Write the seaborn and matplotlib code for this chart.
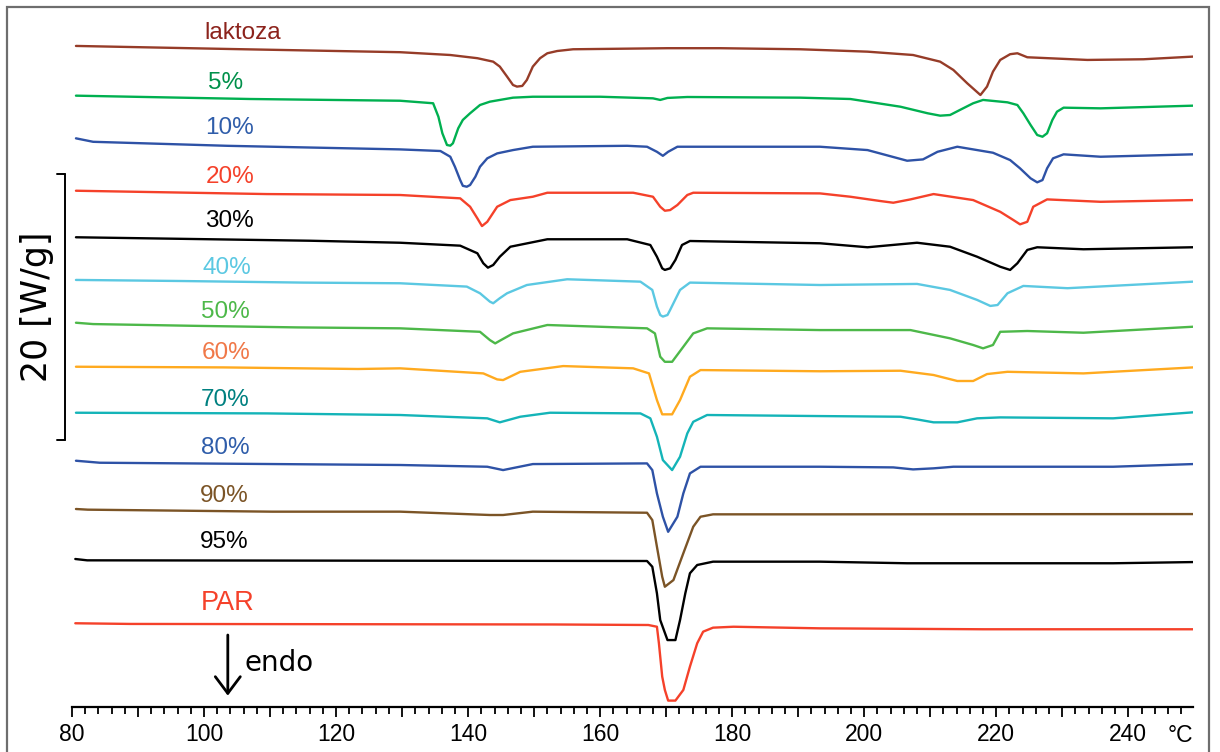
import numpy as np
import pandas as pd
import matplotlib
matplotlib.use("Agg")
import matplotlib.pyplot as plt
import seaborn as sns
from matplotlib.ticker import MultipleLocator, FuncFormatter
from matplotlib.transforms import blended_transform_factory
from matplotlib.patches import Rectangle

# ---------------- data (heat flow, W/g, relative to each curve's start) ----------------
samples = ["laktoza", "5%", "10%", "20%", "30%", "40%", "50%", "60%", "70%", "80%", "90%", "95%", "PAR"]

t_laktoza = [80.6, 103.9, 129.7, 137.3, 141.4, 143.8, 144.8, 145.9, 146.8, 147.4, 148.2, 148.9, 149.8, 150.9, 152.0,
             153.5, 155.9, 170.2, 178.2, 190.3, 200.5, 207.4, 211.5, 213.5, 215.6, 217.6, 218.6, 219.5, 220.6, 222.1,
             223.2, 224.7, 233.8, 242.3, 249.8]
hf_laktoza = [0, -0.23, -0.47, -0.68, -0.92, -1.18, -1.55, -2.30, -2.93, -3.05, -3.00, -2.55, -1.55, -0.92, -0.55,
              -0.38, -0.25, -0.17, -0.17, -0.25, -0.43, -0.68, -1.18, -1.80, -2.80, -3.68, -3.05, -1.93, -1.05, -0.62,
              -0.55, -0.85, -1.05, -1.00, -0.80]

t_5 = [80.6, 107.0, 129.7, 134.7, 135.5, 136.1, 136.8, 137.3, 137.7, 138.5, 139.2, 140.3, 141.8, 143.3, 146.8,
       149.8, 160.0, 168.0, 169.1, 170.2, 173.2, 190.3, 197.9, 205.5, 209.6, 211.5, 213.0, 214.5, 216.5, 218.0,
       221.7, 223.2, 224.1, 225.2, 226.2, 227.0, 227.7, 228.5, 229.2, 230.2, 235.8, 249.8]
hf_5 = [0, -0.25, -0.38, -0.57, -1.58, -2.82, -3.70, -3.75, -3.57, -2.45, -1.82, -1.32, -0.70, -0.45, -0.15,
        -0.08, -0.08, -0.20, -0.32, -0.17, -0.10, -0.15, -0.25, -0.83, -1.32, -1.50, -1.45, -1.07, -0.57, -0.32,
        -0.50, -0.70, -1.32, -2.20, -2.95, -3.08, -2.82, -1.82, -1.20, -0.90, -0.95, -0.75]

t_10 = [80.6, 83.2, 103.5, 129.7, 135.8, 137.3, 138.0, 138.8, 139.2, 139.8, 140.3, 141.1, 141.8, 142.9, 144.4,
        146.8, 149.8, 164.1, 167.1, 168.6, 169.5, 170.3, 171.7, 193.3, 200.5, 206.5, 208.9, 211.1, 214.1, 219.5,
        222.1, 223.6, 225.2, 226.2, 227.0, 227.7, 228.6, 230.2, 235.8, 249.8]
hf_10 = [0, -0.26, -0.56, -0.83, -0.95, -1.38, -2.13, -3.13, -3.56, -3.63, -3.50, -2.88, -2.13, -1.50, -1.13,
         -0.88, -0.63, -0.56, -0.63, -1.01, -1.31, -1.01, -0.63, -0.63, -0.88, -1.68, -1.58, -1.01, -0.63, -1.08,
         -1.63, -2.25, -3.00, -3.30, -3.13, -2.25, -1.50, -1.20, -1.38, -1.20]

t_20 = [80.6, 109.5, 129.7, 138.8, 140.3, 141.4, 142.1, 142.9, 144.4, 146.4, 149.8, 152.0, 165.0, 168.0, 169.1,
        169.8, 170.6, 171.7, 173.2, 174.1, 193.3, 197.9, 202.4, 204.4, 207.0, 210.5, 216.5, 220.6, 222.6, 223.6,
        224.7, 225.6, 227.7, 235.8, 249.8]
hf_20 = [0, -0.25, -0.32, -0.57, -1.20, -2.07, -2.65, -2.33, -1.20, -0.70, -0.45, -0.15, -0.15, -0.45, -1.20,
         -1.50, -1.45, -1.07, -0.32, -0.15, -0.20, -0.45, -0.77, -0.90, -0.65, -0.25, -0.70, -1.58, -2.20, -2.52,
         -2.33, -1.20, -0.65, -0.83, -0.70]

t_30 = [80.6, 116.1, 129.7, 138.8, 141.4, 142.3, 143.0, 143.8, 144.8, 146.4, 152.0, 164.1, 167.6, 168.6, 169.4,
        169.8, 170.6, 171.4, 172.4, 173.6, 193.3, 200.5, 208.0, 213.0, 217.1, 220.6, 222.1, 223.2, 224.7, 226.2,
        233.2, 249.8]
hf_30 = [0, -0.26, -0.41, -0.63, -1.20, -1.95, -2.28, -2.08, -1.46, -0.71, -0.15, -0.15, -0.58, -1.46, -2.33,
         -2.45, -2.33, -1.70, -0.58, -0.28, -0.45, -0.75, -0.41, -0.71, -1.46, -2.21, -2.45, -1.95, -0.95, -0.75,
         -0.90, -0.75]

t_40 = [80.6, 96.4, 115.0, 129.7, 139.8, 141.8, 143.3, 143.8, 144.8, 145.9, 148.9, 155.0, 166.1, 167.9, 168.6,
        169.1, 169.5, 170.2, 170.6, 172.1, 173.6, 193.3, 208.0, 213.0, 217.1, 219.1, 220.2, 221.7, 224.1, 230.8,
        249.8]
hf_40 = [0, -0.08, -0.20, -0.25, -0.50, -1.00, -1.63, -1.75, -1.37, -1.00, -0.38, 0.05, -0.13, -0.75, -2.00,
         -2.63, -2.75, -2.63, -2.25, -0.75, -0.20, -0.38, -0.30, -0.75, -1.50, -1.95, -1.88, -1.00, -0.45, -0.62,
         -0.13]

t_50 = [80.6, 83.2, 98.3, 114.1, 129.7, 141.8, 143.3, 144.1, 144.8, 146.8, 152.0, 167.1, 168.3, 169.1, 169.8,
        170.9, 172.6, 174.1, 176.2, 193.3, 207.0, 213.0, 216.5, 218.0, 219.5, 220.6, 224.7, 233.2, 249.8]
hf_50 = [0, -0.10, -0.23, -0.35, -0.42, -0.68, -1.30, -1.55, -1.35, -0.80, -0.17, -0.42, -0.80, -2.55, -2.93,
         -2.93, -1.80, -0.80, -0.42, -0.55, -0.55, -1.17, -1.67, -1.92, -1.67, -0.68, -0.62, -0.75, -0.30]

t_60 = [80.6, 102.9, 123.3, 129.7, 142.3, 144.4, 145.3, 147.9, 154.4, 165.0, 167.4, 168.6, 169.4, 170.9, 172.1,
        173.6, 175.2, 193.3, 205.5, 210.5, 214.1, 216.5, 218.6, 221.7, 233.2, 249.8]
hf_60 = [0, -0.05, -0.17, -0.12, -0.50, -0.95, -1.00, -0.38, 0.05, -0.12, -0.50, -2.50, -3.57, -3.57, -2.50,
         -0.75, -0.25, -0.34, -0.30, -0.62, -1.07, -1.07, -0.55, -0.38, -0.50, -0.05]

t_70 = [80.6, 109.5, 129.7, 142.9, 144.8, 147.9, 152.4, 166.1, 167.6, 168.6, 169.5, 170.9, 172.1, 173.2, 174.1,
        176.2, 193.3, 205.5, 208.0, 210.5, 214.1, 217.1, 220.6, 237.7, 249.8]
hf_70 = [0, -0.05, -0.17, -0.42, -0.72, -0.30, 0, -0.05, -0.42, -1.80, -3.55, -4.30, -3.30, -1.55, -0.68,
         -0.17, -0.25, -0.30, -0.50, -0.72, -0.72, -0.42, -0.35, -0.42, 0.03]

t_80 = [80.6, 84.2, 116.1, 129.7, 142.9, 145.3, 149.8, 167.1, 167.9, 168.6, 169.5, 170.3, 171.7, 172.6, 173.6,
        175.2, 193.3, 204.4, 207.4, 210.5, 213.5, 237.7, 249.8]
hf_80 = [0, -0.15, -0.27, -0.32, -0.45, -0.70, -0.25, -0.20, -0.70, -2.45, -4.20, -5.33, -4.20, -2.45, -0.95,
         -0.45, -0.45, -0.50, -0.65, -0.57, -0.45, -0.45, -0.25]

t_90 = [80.6, 82.4, 110.3, 129.7, 143.3, 145.3, 149.8, 167.1, 167.9, 168.6, 169.4, 169.8, 171.1, 172.6, 174.1,
        175.2, 177.1, 193.3, 249.8]
hf_90 = [0, -0.05, -0.20, -0.20, -0.45, -0.45, -0.20, -0.28, -0.83, -2.83, -5.08, -5.83, -5.33, -3.32, -1.33,
         -0.58, -0.40, -0.40, -0.38]

t_95 = [80.5, 82.3, 132.7, 167.1, 167.9, 168.6, 169.1, 170.2, 171.4, 172.1, 172.9, 173.6, 174.7, 177.1, 193.3,
        206.5, 237.7, 249.8]
hf_95 = [0, -0.10, -0.13, -0.15, -0.58, -2.57, -4.58, -6.08, -6.08, -4.58, -2.57, -1.07, -0.45, -0.20, -0.20,
         -0.32, -0.32, -0.23]

t_par = [80.5, 88.8, 152.9, 167.3, 168.6, 168.9, 169.4, 169.8, 170.3, 171.4, 172.6, 173.6, 174.7, 175.6, 177.1,
         180.2, 193.3, 218.0, 249.8]
hf_par = [0, -0.05, -0.09, -0.13, -0.26, -1.50, -4.00, -5.00, -5.80, -5.80, -5.00, -3.25, -1.50, -0.63, -0.33,
          -0.26, -0.38, -0.45, -0.45]

temps = [t_laktoza, t_5, t_10, t_20, t_30, t_40, t_50, t_60, t_70, t_80, t_90, t_95, t_par]
flows = [hf_laktoza, hf_5, hf_10, hf_20, hf_30, hf_40, hf_50, hf_60, hf_70, hf_80, hf_90, hf_95, hf_par]

# ---------------- layout / style ----------------
offsets = [49.58, 45.85, 42.65, 38.72, 35.23, 32.03, 28.82, 25.52, 22.07, 18.47, 14.85, 11.10, 6.28]
label_x = [105.9, 103.2, 103.8, 103.9, 103.9, 103.5, 103.3, 103.3, 103.2, 103.2, 103.0, 103.0, 103.6]
label_dy = [1.0, 0.95, 0.75, 1.0, 1.2, 0.9, 0.8, 1.0, 0.95, 0.95, 0.95, 1.3, 1.5]
line_colors = ["#963C28", "#00B050", "#2E52A6", "#F5412A", "#000000", "#5BC8E2", "#4DB849",
               "#FFAA1F", "#14B4B8", "#2E52A6", "#7B5426", "#000000", "#F5412A"]
text_colors = ["#8C231C", "#00904A", "#2F5DAA", "#F5412A", "#000000", "#5BC8E2", "#4DB849",
               "#F07848", "#008080", "#2F5DAA", "#7B5426", "#000000", "#F5412A"]

frames = []
for name, t, hf, off in zip(samples, temps, flows, offsets):
    frames.append(pd.DataFrame({"T": t, "y": np.asarray(hf) + off, "sample": name}))
df = pd.concat(frames, ignore_index=True)

sns.set_style("ticks")
plt.rcParams["font.family"] = ["Liberation Sans", "DejaVu Sans"]

W, H = 1220, 752
fig = plt.figure(figsize=(W / 100, H / 100), dpi=100)
ax = fig.add_axes([72 / W, 45 / H, (1193 - 72) / W, 700 / H])

sns.lineplot(data=df, x="T", y="y", hue="sample", palette=dict(zip(samples, line_colors)),
             estimator=None, sort=False, legend=False, linewidth=1.7, ax=ax,
             solid_joinstyle="round", solid_capstyle="round")

ax.set_xlim(80, 249.8)
ax.set_ylim(0, 52.5)
ax.set_xlabel("")
ax.set_ylabel("")
ax.set_yticks([])
for s in ["left", "right", "top"]:
    ax.spines[s].set_visible(False)
ax.spines["bottom"].set_linewidth(1.6)
ax.spines["bottom"].set_color("black")
ax.xaxis.set_major_locator(MultipleLocator(10))
ax.xaxis.set_minor_locator(MultipleLocator(2))
ax.xaxis.set_major_formatter(FuncFormatter(lambda v, p: f"{int(round(v))}" if int(round(v)) % 20 == 0 else ""))
ax.tick_params(axis="x", which="major", length=7.2, width=1.3, direction="out", pad=4.5, labelsize=16.5,
               color="black", labelcolor="black")
ax.tick_params(axis="x", which="minor", length=4.8, width=1.3, direction="out", color="black")
ax.patch.set_alpha(0)

# sample labels
for name, lx, off, dy, c in zip(samples, label_x, offsets, label_dy, text_colors):
    ax.text(lx, off + dy, name, color=c, ha="center", va="center",
            fontsize=19.5 if name == "PAR" else 17.5)

# °C unit at the end of the axis
tr_xdata = blended_transform_factory(ax.transData, ax.transAxes)
ax.text(247.9, -0.04, "°C", transform=tr_xdata, ha="center", va="center", fontsize=16.5, color="black")

# scale bar 20 W/g
tr = blended_transform_factory(ax.transAxes, ax.transData)
xb, xt = -0.0062, -0.0134
ax.plot([xb, xb], [20, 40], color="black", lw=1.4, transform=tr, clip_on=False)
ax.plot([xt, xb], [40, 40], color="black", lw=1.4, transform=tr, clip_on=False)
ax.plot([xt, xb], [20, 20], color="black", lw=1.4, transform=tr, clip_on=False)
ax.text(-0.0312, 30, "20 [W/g]", transform=tr, rotation=90, ha="center", va="center",
        fontsize=25, family="DejaVu Sans", color="black")

# endo arrow
ax.annotate("", xy=(103.6, 0.85), xytext=(103.6, 5.4),
            arrowprops=dict(arrowstyle="->,head_length=0.6,head_width=0.45", lw=2.0, color="black",
                            mutation_scale=20, shrinkA=0, shrinkB=0))
ax.text(106.2, 3.3, "endo", ha="left", va="center", fontsize=20, family="DejaVu Sans", color="black")

# outer frame
fig.add_artist(Rectangle((7 / W, -0.05), (1209 - 7) / W, 1 - 7 / H + 0.05, transform=fig.transFigure,
                         fill=False, edgecolor="#6E6E6E", linewidth=1.6))

fig.savefig("out.png", dpi=100)
